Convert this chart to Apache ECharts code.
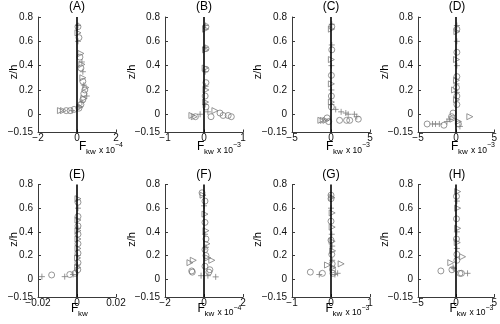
<!DOCTYPE html>
<html>
<head>
<meta charset="utf-8">
<script src="https://cdn.jsdelivr.net/npm/echarts@6/dist/echarts.min.js"></script>
<style>
  html, body { margin: 0; padding: 0; background: #fff; }
  #chart { width: 500px; height: 324px; }
</style>
</head>
<body>
<div id="chart"></div>
<script>
// Panel labels, symmetric x limits (in the units shown on each axis) and exponent of the x scale
const panelTitles = ['(A)', '(B)', '(C)', '(D)', '(E)', '(F)', '(G)', '(H)'];
const xLimits = [2, 1, 5, 5, 0.02, 2, 1, 5];
const xExponents = ['−4', '−3', '−3', '−3', '', '−4', '−3', '−3'];
const yTicks = [-0.15, 0, 0.2, 0.4, 0.6, 0.8];

// Profiles of F_kw against z/h: [F_kw, z/h]
const circlesA = [[0.05,0.72],[0.1,0.63],[0.15,0.47],[0.2,0.38],[0.3,0.27],[0.4,0.2],[0.35,0.17],[0.3,0.12],[0.2,0.08],[0.1,0.05],[-0.55,0.03],[-0.35,0.03],[-0.15,0.04]];
const trianglesA = [[0.05,0.67],[0.2,0.5],[0.25,0.41],[0.3,0.3],[0.45,0.22],[0.35,0.13],[0.15,0.06],[-0.85,0.03],[-0.7,0.03]];
const plusesA = [[0.05,0.73],[0.05,0.6],[0.25,0.43],[0.3,0.35],[0.35,0.24],[0.5,0.15],[0.25,0.1],[0.1,0.06],[-0.25,0.03]];

const circlesB = [[0.05,0.72],[0.05,0.54],[0.05,0.37],[0.05,0.26],[0.03,0.15],[0.05,0.06],[0.18,-0.02],[0.41,0.01],[0.49,-0.01],[0.62,-0.01],[0.7,-0.02],[-0.22,-0.02]];
const trianglesB = [[0.04,0.7],[0.04,0.53],[0.03,0.38],[0.05,0.2],[0.04,0.1],[0.28,0.03],[-0.31,-0.01],[-0.25,-0.02]];
const plusesB = [[0.04,0.73],[0.03,0.55],[0.03,0.35],[0.04,0.23],[0.03,0.08],[-0.1,0.0],[0.1,0.02]];

const circlesC = [[0.1,0.72],[0.1,0.53],[0.05,0.32],[0.05,0.15],[0.05,0.06],[-0.5,-0.03],[-0.3,-0.06],[1.1,-0.05],[2.0,-0.05],[2.4,-0.05],[3.5,-0.04]];
const trianglesC = [[0.05,0.7],[0.05,0.45],[0.05,0.25],[0.05,0.1],[-1.3,-0.05],[-1.0,-0.05],[-0.65,-0.05]];
const plusesC = [[0.1,0.74],[0.1,0.57],[0.05,0.4],[0.05,0.2],[0.05,0.08],[0.6,0.04],[1.3,0.02],[1.9,0.01],[2.2,0.0],[3.0,0.0],[3.3,-0.02]];

const circlesD = [[0.1,0.7],[0.1,0.51],[0.1,0.31],[0.05,0.22],[0.1,0.15],[0.1,0.08],[-3.8,-0.08],[-1.6,-0.09],[-0.6,-0.02],[-0.4,0.01],[0.3,-0.08]];
const trianglesD = [[0.1,0.68],[0.05,0.45],[0.05,0.28],[-0.2,0.2],[0.05,0.12],[-0.4,-0.04],[1.8,-0.02],[0.3,-0.06]];
const plusesD = [[0.1,0.73],[0.1,0.6],[0.1,0.4],[0.05,0.25],[0.1,0.18],[-3.1,-0.08],[-2.7,-0.08],[-2.2,-0.08],[-1.2,-0.06],[-0.9,-0.04],[0.5,-0.1]];

const circlesE = [[0.0005,0.65],[0.0005,0.53],[0.0005,0.45],[0.0005,0.38],[0.0005,0.3],[0.0005,0.22],[0.0005,0.14],[0.0004,0.08],[-0.013,0.036],[-0.0037,0.04],[-0.001,0.05]];
const trianglesE = [[0.0005,0.68],[0.0005,0.5],[0.0005,0.41],[0.0005,0.34],[0.0005,0.26],[0.0003,0.18],[0.0003,0.1]];
const plusesE = [[0.0005,0.6],[0.0005,0.43],[0.0003,0.2],[0.0002,0.12],[-0.018,0.022],[-0.0063,0.022],[-0.002,0.04]];

const circlesF = [[-0.1,0.73],[0.05,0.66],[0.05,0.48],[0.1,0.34],[0.05,0.25],[0.1,0.2],[-0.63,0.07],[-0.6,0.06],[0.05,0.11],[0.3,0.08],[0.25,0.06]];
const trianglesF = [[-0.05,0.71],[0.05,0.55],[0.1,0.41],[0.15,0.3],[0.4,0.16],[-0.72,0.14],[-0.55,0.16],[0.2,0.18]];
const plusesF = [[0.0,0.62],[0.05,0.38],[0.1,0.27],[-0.15,0.03],[0.2,0.03],[0.6,0.02]];

const circlesG = [[0.0,0.71],[0.0,0.68],[0.0,0.49],[0.0,0.33],[0.02,0.21],[0.03,0.13],[0.04,0.08],[-0.53,0.06],[-0.22,0.05],[0.05,0.05]];
const trianglesG = [[0.02,0.69],[0.03,0.56],[0.03,0.44],[0.03,0.32],[0.04,0.24],[0.26,0.13],[-0.09,0.12],[0.05,0.1]];
const plusesG = [[0.0,0.6],[0.02,0.38],[0.03,0.28],[0.03,0.16],[-0.3,0.04],[0.1,0.04],[0.17,0.05]];

const circlesH = [[0.05,0.7],[0.05,0.51],[0.05,0.34],[0.1,0.21],[0.1,0.16],[-0.55,0.08],[-2.0,0.07],[0.5,0.05],[0.7,0.05]];
const trianglesH = [[0.2,0.74],[0.2,0.6],[0.2,0.43],[0.15,0.31],[0.85,0.19],[-0.7,0.14]];
const plusesH = [[0.1,0.66],[0.1,0.4],[0.1,0.26],[-0.4,0.1],[-0.3,0.09],[1.5,0.05]];

const panelCircles = [circlesA, circlesB, circlesC, circlesD, circlesE, circlesF, circlesG, circlesH];
const panelTriangles = [trianglesA, trianglesB, trianglesC, trianglesD, trianglesE, trianglesF, trianglesG, trianglesH];
const panelPluses = [plusesA, plusesB, plusesC, plusesD, plusesE, plusesF, plusesG, plusesH];

// Layout
const colLeft = [38, 165, 292, 418];
const plotWidth = 78;
const rowTop = [17, 184.5];
const plotHeight = [115.5, 112.5];
const yNameX = [14, 132, 258, 385];
const fLabelOffset = [2, -7, -5, -6, -6, -6.5, -5.5, -7.5];
const fLabelDrop = [14, 12];

const FONT = '"Liberation Sans", Arial, Helvetica, sans-serif';
const MARK = '#7d7d7d';
const AXIS = '#3a3a3a';

const fmtMinus = v => {
  if (v === 0) return '0';
  const s = Math.abs(v) < 0.1 ? String(+Math.abs(v).toFixed(2)) : String(Math.abs(v));
  return (v < 0 ? '−' : '') + s;
};

const grids = [], xAxes = [], yAxes = [], series = [], graphics = [];

panelTitles.forEach((title, i) => {
  const row = Math.floor(i / 4), col = i % 4;
  const left = colLeft[col], top = rowTop[row], h = plotHeight[row];
  grids.push({ left, top, width: plotWidth, height: h, containLabel: false });

  const lim = xLimits[i];
  xAxes.push({
    gridIndex: i, type: 'value', min: -lim, max: lim, interval: lim,
    axisLine: { show: true, onZero: false, lineStyle: { color: AXIS, width: 1 } },
    axisTick: { show: true, inside: true, length: 3, lineStyle: { color: AXIS } },
    axisLabel: {
      show: true, margin: 1, fontSize: 10, fontFamily: FONT, color: '#111',
      formatter: v => fmtMinus(v)
    },
    splitLine: { show: false }
  });
  yAxes.push({
    gridIndex: i, type: 'value', min: -0.15, max: 0.8,
    axisLine: { show: true, onZero: false, lineStyle: { color: AXIS, width: 1 } },
    axisTick: { show: true, inside: true, length: 3, customValues: yTicks, lineStyle: { color: AXIS } },
    axisLabel: {
      show: true, margin: 5, fontSize: 10, fontFamily: FONT, color: '#111',
      customValues: yTicks,
      formatter: v => (v === 0 ? '0' : v === -0.15 ? '−0.15' : v.toFixed(1))
    },
    splitLine: { show: false }
  });

  const common = {
    type: 'scatter', xAxisIndex: i, yAxisIndex: i, symbolSize: 6, silent: true,
    itemStyle: { color: 'rgba(0,0,0,0)', borderColor: MARK, borderWidth: 1 },
    z: 3
  };
  series.push({
    type: 'line', xAxisIndex: i, yAxisIndex: i, data: [], silent: true, z: 2,
    markLine: {
      silent: true, symbol: ['none', 'none'], label: { show: false },
      lineStyle: { color: '#000', width: 1.6, type: 'solid' },
      data: [{ xAxis: 0 }], animation: false
    }
  });
  series.push(Object.assign({}, common, { symbol: 'circle', data: panelCircles[i] }));
  series.push(Object.assign({}, common, { symbol: 'triangle', symbolRotate: -90, data: panelTriangles[i] }));
  series.push(Object.assign({}, common, { symbol: 'path://M5,0L5,10M0,5L10,5', symbolSize: 6, data: panelPluses[i] }));

  const cx = left + plotWidth / 2;
  const bottom = top + h;
  // Panel title
  graphics.push({ type: 'text', x: cx, y: top - 10, style: { text: title, font: '12px ' + FONT, fill: '#000', align: 'center', verticalAlign: 'middle' } });
  // Vertical axis name
  graphics.push({ type: 'text', x: yNameX[col], y: top + 55, rotation: Math.PI / 2,
    style: { text: 'z/h', font: '11px ' + FONT, fill: '#000', align: 'center', verticalAlign: 'middle' } });
  // Horizontal axis name F_kw with scale factor
  const fx = cx + fLabelOffset[i];
  const fy = bottom + fLabelDrop[row];
  graphics.push({ type: 'text', x: fx, y: fy, style: { text: 'F', font: '12px ' + FONT, fill: '#000', align: 'left', verticalAlign: 'middle' } });
  graphics.push({ type: 'text', x: fx + 7, y: fy + 5, style: { text: 'kw', font: '8px ' + FONT, fill: '#000', align: 'left', verticalAlign: 'middle' } });
  if (xExponents[i]) {
    graphics.push({ type: 'text', x: fx + 20, y: fy + 4, style: { text: 'x 10', font: '8.5px ' + FONT, fill: '#000', align: 'left', verticalAlign: 'middle' } });
    graphics.push({ type: 'text', x: fx + 36, y: fy - 1, style: { text: xExponents[i], font: '7px ' + FONT, fill: '#000', align: 'left', verticalAlign: 'middle' } });
  }
});

const chart = echarts.init(document.getElementById('chart'), null, { renderer: 'canvas' });
chart.setOption({
  animation: false,
  backgroundColor: '#fff',
  grid: grids,
  xAxis: xAxes,
  yAxis: yAxes,
  series: series,
  graphic: graphics
});
</script>
</body>
</html>
